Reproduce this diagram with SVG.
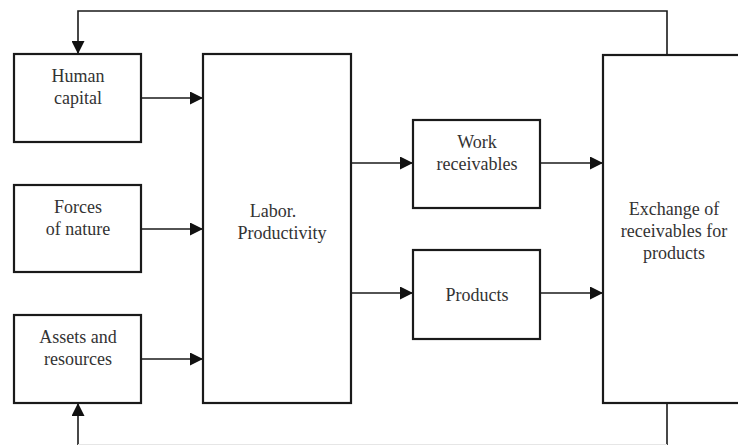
<svg xmlns="http://www.w3.org/2000/svg" width="738" height="445" viewBox="0 0 738 445">
<defs>
<marker id="ah" markerWidth="13" markerHeight="13" refX="13" refY="6.5" orient="auto" markerUnits="userSpaceOnUse">
<path d="M0,0 L13,6.5 L0,13 Z" fill="#111"/>
</marker>
<style>
.box{fill:#fff;stroke:#1a1a1a;stroke-width:2.2}
.ln{fill:none;stroke:#1a1a1a;stroke-width:1.6}
.t{font-family:"Liberation Serif","Times New Roman",serif;font-size:18px;fill:#333;text-anchor:middle}
</style>
</defs>
<rect width="738" height="445" fill="#fff"/>
<g id="connectors">
<path class="ln" d="M667,55 V11 H78 V54" marker-end="url(#ah)"/>
<path class="ln" d="M667,403 V445"/>
<path class="ln" d="M78,445 V403" marker-end="url(#ah)"/>
<line x1="78" y1="444.5" x2="667" y2="444.5" stroke="#e6e6e6" stroke-width="1"/>
<line class="ln" x1="141" y1="98" x2="203" y2="98" marker-end="url(#ah)"/>
<line class="ln" x1="141" y1="229" x2="203" y2="229" marker-end="url(#ah)"/>
<line class="ln" x1="141" y1="359" x2="203" y2="359" marker-end="url(#ah)"/>
<line class="ln" x1="351" y1="163" x2="413" y2="163" marker-end="url(#ah)"/>
<line class="ln" x1="351" y1="293" x2="413" y2="293" marker-end="url(#ah)"/>
<line class="ln" x1="540" y1="163" x2="603" y2="163" marker-end="url(#ah)"/>
<line class="ln" x1="540" y1="293" x2="603" y2="293" marker-end="url(#ah)"/>
</g>
<g id="human-capital">
<rect class="box" x="14" y="54" width="127" height="88"/>
<text class="t" x="78" y="82">Human</text>
<text class="t" x="78" y="104">capital</text>
</g>
<g id="forces-of-nature">
<rect class="box" x="14" y="185" width="127" height="87"/>
<text class="t" x="78" y="213">Forces</text>
<text class="t" x="78" y="235">of nature</text>
</g>
<g id="assets-resources">
<rect class="box" x="14" y="315" width="127" height="88"/>
<text class="t" x="78" y="343">Assets and</text>
<text class="t" x="78" y="365">resources</text>
</g>
<g id="labor-productivity">
<rect class="box" x="203" y="54" width="148" height="349"/>
<text class="t" x="273" y="217">Labor.</text>
<text class="t" x="282" y="239">Productivity</text>
</g>
<g id="work-receivables">
<rect class="box" x="413" y="120" width="127" height="88"/>
<text class="t" x="477" y="148">Work</text>
<text class="t" x="477" y="170">receivables</text>
</g>
<g id="products">
<rect class="box" x="413" y="250" width="127" height="89"/>
<text class="t" x="477" y="301">Products</text>
</g>
<g id="exchange">
<rect class="box" x="603" y="55" width="160" height="348"/>
<text class="t" x="674" y="215">Exchange of</text>
<text class="t" x="674" y="237">receivables for</text>
<text class="t" x="674" y="259">products</text>
</g>
</svg>
